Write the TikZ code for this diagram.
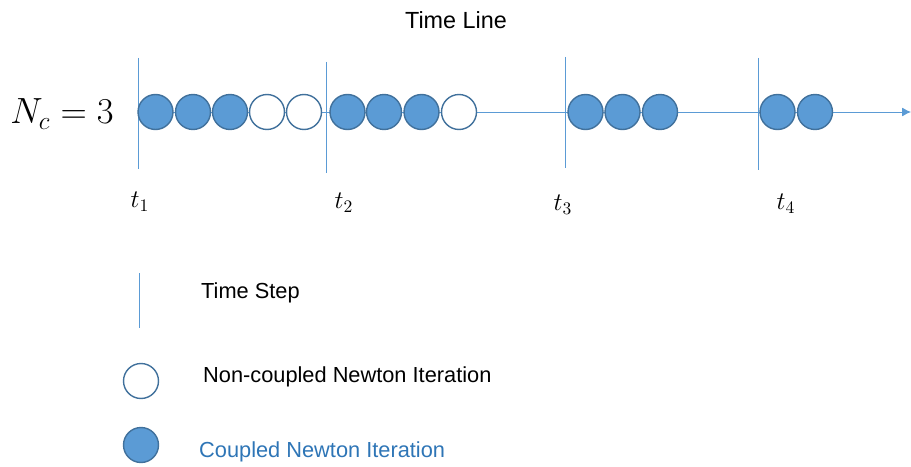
\documentclass[tikz,border=0pt]{standalone}
\usepackage{fontspec}
\newfontfamily\arial{Liberation Sans}
\usetikzlibrary{
    arrows.meta
}
\definecolor{iterfill}{HTML}{5B9BD5}
\definecolor{iterdraw}{HTML}{41719C}
\definecolor{labelblue}{HTML}{2E75B6}
\tikzset {
    time step/.style = {draw = iterfill, line width = 0.5pt},
    time axis/.style = {
        draw = iterfill,
        line width = 0.5pt,
        arrows = {-Latex[length = 5pt, width = 5pt]}
    },
    iter/.style = {circle, draw = iterdraw, line width = 0.8pt, minimum size = 0.7cm, inner sep = 0pt},
    coupled/.style = {iter, fill = iterfill},
    uncoupled/.style = {iter, fill = white},
    legend text/.style = {font = \arial\fontsize{12.4}{14}\selectfont, anchor = west},
    step label/.style = {font = \fontsize{14}{16}\selectfont},
}

\begin{document}
\begin{tikzpicture}[x = 0.02cm, y = -0.02cm]
    \useasboundingbox (0, 0) rectangle (911, 466);
    \node (title) [font = \arial\fontsize{13.3}{16}\selectfont] at (456, 20) {Time Line};
    \node (nc) [font = \fontsize{20}{24}\selectfont] at (62, 114) {$N_c = 3$};
    % time axis
    \coordinate (start) at (138, 112);
    \coordinate (end) at (911, 112);
    \draw [time axis] (start) -- (end);
    % time steps
    \foreach \i/\x/\top/\bot/\lx/\ly in {1/138/58/169/140/202, 2/326/62/173/344/203,
                                         3/565/57/168/563/205, 4/758/58/170/786/204} {
        \draw [time step] (\x, \top) -- (\x, \bot);
        \node (t\i) [step label] at (\lx, \ly) {$t_{\i}$};
    }
    % newton iterations
    \foreach \x [count = \n] in {155.5, 193, 230, 347.5, 384, 421.5, 585.5, 622.5, 660, 777.5, 815}
        \node (c\n) [coupled] at (\x, 112) {};
    \foreach \x [count = \n] in {267, 304, 459}
        \node (u\n) [uncoupled] at (\x, 112) {};
    % legend
    \draw [time step] (139, 273) -- (139, 328);
    \node (step text) [legend text] at (195, 293) {Time Step};
    \node (legend u) [uncoupled] at (141, 381) {};
    \node (u text) [legend text] at (197, 377) {Non-coupled Newton Iteration};
    \node (legend c) [coupled] at (141, 445) {};
    \node (c text) [legend text, text = labelblue] at (193, 452) {Coupled Newton Iteration};
\end{tikzpicture}
\end{document}
